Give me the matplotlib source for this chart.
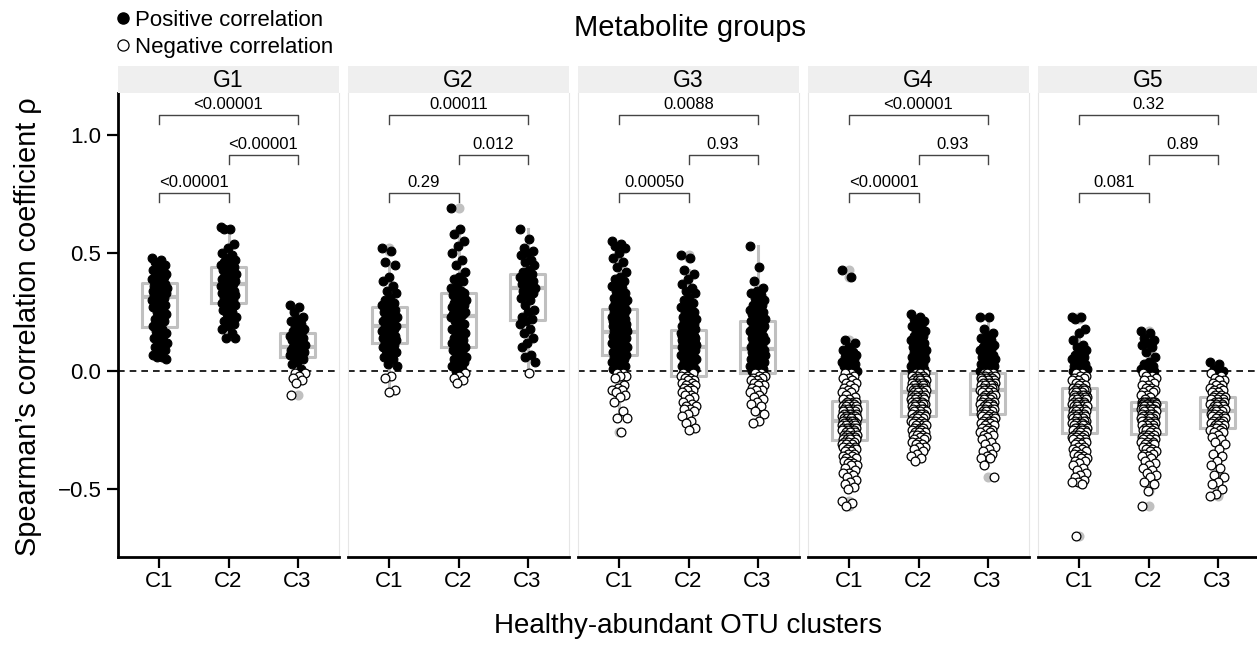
import matplotlib
matplotlib.use('Agg')
import matplotlib.pyplot as plt
from matplotlib.lines import Line2D
import numpy as np

plt.rcParams['font.family'] = ['Liberation Sans', 'DejaVu Sans']

groups = ['G1', 'G2', 'G3', 'G4', 'G5']
clusters = ['C1', 'C2', 'C3']

# pairwise test p-values per metabolite group
p_c1_c2 = ['<0.00001', '0.29', '0.00050', '<0.00001', '0.081']
p_c2_c3 = ['<0.00001', '0.012', '0.93', '0.93', '0.89']
p_c1_c3 = ['<0.00001', '0.00011', '0.0088', '<0.00001', '0.32']

# Spearman rho of each OTU-metabolite pair
g1_c1 = [0.48, 0.47, 0.46, 0.45, 0.44, 0.43, 0.43, 0.42, 0.41, 0.41, 0.40, 0.40, 0.39, 0.39, 0.38, 0.38,
         0.37, 0.37, 0.36, 0.36, 0.36, 0.35, 0.35, 0.35, 0.34, 0.34, 0.34, 0.33, 0.33, 0.33, 0.32, 0.32,
         0.31, 0.31, 0.30, 0.30, 0.29, 0.28, 0.28, 0.27, 0.26, 0.25, 0.24, 0.23, 0.22, 0.21, 0.20, 0.19,
         0.18, 0.17, 0.16, 0.15, 0.14, 0.13, 0.12, 0.12, 0.11, 0.10, 0.09, 0.08, 0.07, 0.06, 0.06, 0.05]
g1_c2 = [0.61, 0.60, 0.60, 0.54, 0.52, 0.50, 0.49, 0.48, 0.47, 0.47, 0.46, 0.46, 0.45, 0.45, 0.44, 0.44,
         0.44, 0.43, 0.43, 0.42, 0.42, 0.41, 0.41, 0.40, 0.40, 0.39, 0.39, 0.38, 0.38, 0.38, 0.37, 0.37,
         0.37, 0.36, 0.36, 0.35, 0.35, 0.34, 0.34, 0.33, 0.33, 0.32, 0.32, 0.31, 0.31, 0.30, 0.30, 0.29,
         0.29, 0.28, 0.28, 0.27, 0.26, 0.25, 0.24, 0.23, 0.22, 0.21, 0.20, 0.19, 0.18, 0.16, 0.14, 0.14]
g1_c3 = [0.28, 0.27, 0.25, 0.23, 0.22, 0.21, 0.20, 0.19, 0.18, 0.18, 0.17, 0.17,
         0.16, 0.15, 0.15, 0.14, 0.14, 0.13, 0.13, 0.12, 0.12, 0.11, 0.11, 0.10,
         0.10, 0.10, 0.09, 0.09, 0.09, 0.08, 0.08, 0.08, 0.07, 0.07, 0.07, 0.06,
         0.06, 0.05, 0.04, 0.03, 0.01, -0.01, -0.01, -0.02, -0.03, -0.04, -0.05, -0.10]

g2_c1 = [0.52, 0.51, 0.46, 0.45, 0.40, 0.38, 0.36, 0.34, 0.33, 0.31, 0.30, 0.29, 0.28, 0.28, 0.27,
         0.27, 0.26, 0.26, 0.25, 0.24, 0.24, 0.23, 0.23, 0.22, 0.22, 0.21, 0.21, 0.20, 0.20, 0.19,
         0.19, 0.18, 0.18, 0.17, 0.17, 0.16, 0.16, 0.15, 0.15, 0.14, 0.14, 0.13, 0.13, 0.12, 0.12,
         0.11, 0.11, 0.10, 0.10, 0.09, 0.08, 0.07, 0.06, 0.05, 0.03, 0.02, -0.02, -0.03, -0.08, -0.09]
g2_c2 = [0.69, 0.60, 0.58, 0.55, 0.53, 0.50, 0.47, 0.45, 0.42, 0.40, 0.39, 0.38, 0.36, 0.35, 0.34, 0.34, 0.33,
         0.33, 0.32, 0.31, 0.31, 0.30, 0.29, 0.29, 0.28, 0.27, 0.27, 0.26, 0.26, 0.25, 0.25, 0.24, 0.24, 0.24,
         0.23, 0.22, 0.21, 0.20, 0.19, 0.18, 0.17, 0.16, 0.16, 0.15, 0.14, 0.13, 0.13, 0.12, 0.11, 0.11, 0.10,
         0.10, 0.09, 0.08, 0.07, 0.06, 0.05, 0.05, 0.04, 0.03, 0.02, 0.01, 0.00, -0.01, -0.02, -0.03, -0.04, -0.05]
g2_c3 = [0.60, 0.56, 0.52, 0.51, 0.50, 0.49, 0.47, 0.46, 0.45, 0.43, 0.42,
         0.41, 0.40, 0.40, 0.39, 0.38, 0.38, 0.37, 0.37, 0.36, 0.36, 0.35,
         0.35, 0.34, 0.33, 0.32, 0.31, 0.30, 0.28, 0.26, 0.25, 0.23, 0.22,
         0.21, 0.20, 0.18, 0.16, 0.14, 0.12, 0.10, 0.07, 0.06, 0.04, -0.01]

g3_c1 = [0.55, 0.54, 0.53, 0.52, 0.50, 0.48, 0.46, 0.44, 0.42, 0.40, 0.39, 0.38, 0.37, 0.36,
         0.35, 0.34, 0.33, 0.32, 0.31, 0.31, 0.30, 0.30, 0.29, 0.29, 0.28, 0.28, 0.27, 0.27,
         0.26, 0.26, 0.25, 0.25, 0.24, 0.24, 0.23, 0.23, 0.22, 0.22, 0.22, 0.21, 0.21, 0.21,
         0.20, 0.20, 0.20, 0.19, 0.19, 0.19, 0.18, 0.18, 0.18, 0.18, 0.17, 0.17, 0.17, 0.17,
         0.16, 0.16, 0.16, 0.15, 0.15, 0.15, 0.14, 0.14, 0.14, 0.13, 0.13, 0.13, 0.12, 0.12,
         0.12, 0.11, 0.11, 0.11, 0.10, 0.10, 0.10, 0.09, 0.09, 0.09, 0.08, 0.08, 0.08, 0.07,
         0.07, 0.06, 0.06, 0.05, 0.05, 0.04, 0.04, 0.03, 0.02, 0.02, 0.01, -0.01, -0.01, -0.02,
         -0.02, -0.03, -0.06, -0.07, -0.08, -0.08, -0.09, -0.10, -0.11, -0.13, -0.17, -0.20, -0.20, -0.26]
g3_c2 = [0.49, 0.48, 0.43, 0.41, 0.39, 0.37, 0.35, 0.34, 0.33, 0.31, 0.30, 0.29, 0.28, 0.27, 0.26,
         0.25, 0.25, 0.24, 0.23, 0.23, 0.22, 0.22, 0.21, 0.21, 0.20, 0.20, 0.19, 0.19, 0.18, 0.18,
         0.17, 0.17, 0.17, 0.16, 0.16, 0.16, 0.15, 0.15, 0.15, 0.15, 0.14, 0.14, 0.14, 0.14, 0.13,
         0.13, 0.13, 0.13, 0.12, 0.12, 0.12, 0.12, 0.12, 0.11, 0.11, 0.11, 0.11, 0.11, 0.11, 0.10,
         0.10, 0.10, 0.09, 0.09, 0.09, 0.08, 0.08, 0.08, 0.07, 0.07, 0.07, 0.06, 0.06, 0.06, 0.05,
         0.05, 0.05, 0.04, 0.04, 0.03, 0.03, 0.02, 0.02, 0.01, 0.01, 0.00, -0.01, -0.01, -0.02, -0.02,
         -0.03, -0.03, -0.04, -0.04, -0.05, -0.05, -0.06, -0.06, -0.07, -0.07, -0.08, -0.08, -0.09, -0.10, -0.10,
         -0.11, -0.12, -0.13, -0.14, -0.15, -0.15, -0.16, -0.16, -0.17, -0.18, -0.19, -0.21, -0.22, -0.24, -0.25]
g3_c3 = [0.53, 0.44, 0.38, 0.35, 0.34, 0.33, 0.32, 0.31, 0.30, 0.29, 0.28, 0.28, 0.27,
         0.26, 0.26, 0.25, 0.25, 0.24, 0.24, 0.23, 0.23, 0.22, 0.22, 0.22, 0.22,
         0.21, 0.21, 0.20, 0.20, 0.19, 0.19, 0.18, 0.18, 0.17, 0.17, 0.16, 0.16, 0.15,
         0.15, 0.14, 0.14, 0.13, 0.13, 0.12, 0.12, 0.11, 0.11, 0.10, 0.10, 0.10,
         0.09, 0.09, 0.08, 0.08, 0.08, 0.07, 0.07, 0.07, 0.06, 0.06, 0.05, 0.05, 0.05,
         0.04, 0.04, 0.03, 0.03, 0.03, 0.02, 0.02, 0.01, 0.01, 0.00, 0.00, -0.01,
         -0.01, -0.02, -0.02, -0.03, -0.03, -0.04, -0.04, -0.05, -0.05, -0.06, -0.06, -0.07, -0.08,
         -0.08, -0.09, -0.10, -0.11, -0.12, -0.13, -0.14, -0.15, -0.17, -0.18, -0.21, -0.22]

g4_c1 = [0.43, 0.40, 0.13, 0.12, 0.10, 0.09, 0.08, 0.08, 0.07, 0.06, 0.06, 0.05, 0.05, 0.04, 0.04,
         0.03, 0.03, 0.02, 0.02, 0.01, 0.01, 0.00, -0.01, -0.01, -0.02, -0.03, -0.03, -0.04, -0.05, -0.05,
         -0.06, -0.07, -0.07, -0.08, -0.09, -0.09, -0.10, -0.11, -0.12, -0.12,
         -0.13, -0.13, -0.13, -0.14, -0.14, -0.14, -0.14, -0.15, -0.15, -0.15, -0.15, -0.16, -0.16, -0.16,
         -0.16, -0.16, -0.17, -0.17, -0.17, -0.17, -0.17, -0.18, -0.18, -0.18, -0.18, -0.18, -0.19, -0.19,
         -0.19, -0.19, -0.19, -0.19, -0.20, -0.20, -0.20, -0.20, -0.20, -0.20, -0.21, -0.21,
         -0.21, -0.21, -0.21, -0.22, -0.22, -0.22, -0.22, -0.22, -0.23, -0.23, -0.23, -0.23, -0.23, -0.24,
         -0.24, -0.24, -0.24, -0.24, -0.25, -0.25, -0.25, -0.25, -0.25, -0.26, -0.26, -0.26, -0.26, -0.27,
         -0.27, -0.27, -0.27, -0.28, -0.28, -0.28, -0.28, -0.29, -0.29, -0.29, -0.29, -0.29,
         -0.30, -0.30, -0.30, -0.31, -0.31, -0.31, -0.32, -0.32, -0.32, -0.33, -0.33, -0.33, -0.34, -0.34,
         -0.35, -0.35, -0.36, -0.36, -0.37, -0.37, -0.38, -0.38, -0.39, -0.39, -0.40, -0.40, -0.41, -0.42,
         -0.43, -0.43, -0.44, -0.45, -0.46, -0.47, -0.48, -0.49, -0.50, -0.55, -0.56, -0.57]
g4_c2 = [0.24, 0.23, 0.22, 0.21, 0.20, 0.19, 0.18, 0.17, 0.17, 0.16, 0.15, 0.15, 0.14, 0.13, 0.13,
         0.12, 0.12, 0.11, 0.10, 0.10, 0.09, 0.09, 0.08, 0.08, 0.07, 0.07, 0.06, 0.06, 0.05, 0.05,
         0.04, 0.04, 0.03, 0.03, 0.02, 0.02, 0.01, 0.01, 0.00, 0.00,
         -0.01, -0.01, -0.01, -0.01, -0.02, -0.02, -0.02, -0.02, -0.03, -0.03, -0.03, -0.03, -0.04, -0.04,
         -0.04, -0.04, -0.04, -0.05, -0.05, -0.05, -0.05, -0.05, -0.06, -0.06, -0.06, -0.06, -0.06, -0.07,
         -0.07, -0.07, -0.07, -0.07, -0.08, -0.08, -0.08, -0.08, -0.08, -0.09, -0.09, -0.09,
         -0.09, -0.10, -0.10, -0.10, -0.10, -0.11, -0.11, -0.11, -0.11, -0.12, -0.12, -0.12, -0.12, -0.13,
         -0.13, -0.13, -0.13, -0.14, -0.14, -0.14, -0.14, -0.15, -0.15, -0.15, -0.15, -0.16, -0.16, -0.16,
         -0.16, -0.17, -0.17, -0.17, -0.17, -0.18, -0.18, -0.18, -0.18, -0.19, -0.19, -0.19,
         -0.20, -0.20, -0.20, -0.21, -0.21, -0.21, -0.22, -0.22, -0.22, -0.23, -0.23, -0.23, -0.24, -0.24,
         -0.24, -0.25, -0.25, -0.25, -0.26, -0.26, -0.26, -0.27, -0.27, -0.27, -0.28, -0.28, -0.29, -0.29,
         -0.30, -0.30, -0.31, -0.31, -0.32, -0.32, -0.33, -0.34, -0.35, -0.36, -0.37, -0.38]
g4_c3 = [0.23, 0.23, 0.18, 0.16, 0.15, 0.14, 0.13, 0.12, 0.11, 0.11, 0.10, 0.10, 0.09, 0.09, 0.08,
         0.08, 0.07, 0.07, 0.06, 0.06, 0.05, 0.05, 0.05, 0.04, 0.04, 0.04, 0.03, 0.03, 0.03, 0.02,
         0.02, 0.01, 0.01, 0.00, 0.00,
         -0.01, -0.01, -0.01, -0.01, -0.02, -0.02, -0.02, -0.02, -0.03, -0.03, -0.03, -0.03, -0.03, -0.04,
         -0.04, -0.04, -0.04, -0.04, -0.05, -0.05, -0.05, -0.05, -0.05, -0.06, -0.06, -0.06, -0.06, -0.06,
         -0.07, -0.07, -0.07, -0.07, -0.08, -0.08, -0.08,
         -0.08, -0.09, -0.09, -0.09, -0.10, -0.10, -0.10, -0.11, -0.11, -0.11, -0.12, -0.12, -0.12, -0.12,
         -0.13, -0.13, -0.13, -0.14, -0.14, -0.14, -0.14, -0.15, -0.15, -0.15, -0.16, -0.16, -0.16, -0.16,
         -0.17, -0.17, -0.17, -0.17, -0.18, -0.18, -0.18,
         -0.19, -0.19, -0.19, -0.20, -0.20, -0.20, -0.21, -0.21, -0.21, -0.22, -0.22, -0.22, -0.23, -0.23,
         -0.24, -0.24, -0.25, -0.25, -0.26, -0.26, -0.27, -0.27, -0.28, -0.29, -0.30, -0.31, -0.32, -0.33,
         -0.34, -0.35, -0.36, -0.37, -0.37, -0.40, -0.45]

g5_c1 = [0.23, 0.23, 0.22, 0.18, 0.16, 0.13, 0.11, 0.10, 0.09, 0.08, 0.07, 0.06, 0.05, 0.05, 0.04,
         0.04, 0.03, 0.03, 0.02, 0.02, 0.02, 0.01, 0.01, 0.01, 0.00, 0.00, 0.00, -0.01, -0.01, -0.02,
         -0.02, -0.03, -0.03, -0.04, -0.04, -0.05, -0.05, -0.06, -0.06, -0.07,
         -0.07, -0.07, -0.08, -0.08, -0.08, -0.08, -0.09, -0.09, -0.09, -0.09, -0.10, -0.10, -0.10, -0.10,
         -0.11, -0.11, -0.11, -0.11, -0.11, -0.12, -0.12, -0.12, -0.12, -0.12, -0.13, -0.13, -0.13, -0.13,
         -0.14, -0.14, -0.14, -0.14, -0.15, -0.15, -0.15, -0.15, -0.15, -0.16, -0.16, -0.16,
         -0.16, -0.17, -0.17, -0.17, -0.17, -0.18, -0.18, -0.18, -0.18, -0.19, -0.19, -0.19, -0.19, -0.20,
         -0.20, -0.20, -0.20, -0.21, -0.21, -0.21, -0.21, -0.22, -0.22, -0.22, -0.22, -0.23, -0.23, -0.23,
         -0.23, -0.24, -0.24, -0.24, -0.24, -0.25, -0.25, -0.25, -0.25, -0.26, -0.26, -0.26,
         -0.27, -0.27, -0.27, -0.28, -0.28, -0.28, -0.29, -0.29, -0.29, -0.30, -0.30, -0.30, -0.31, -0.31,
         -0.32, -0.32, -0.33, -0.33, -0.34, -0.34, -0.35, -0.35, -0.36, -0.36, -0.37, -0.37, -0.38, -0.38,
         -0.39, -0.40, -0.41, -0.42, -0.43, -0.44, -0.45, -0.46, -0.47, -0.47, -0.48, -0.70]
g5_c2 = [0.17, 0.16, 0.14, 0.13, 0.12, 0.11, 0.10, 0.08, 0.06, 0.04, 0.03, 0.02, 0.02, 0.01, 0.01,
         0.01, 0.00, 0.00, -0.01, -0.02, -0.02, -0.03, -0.04, -0.04, -0.05, -0.06, -0.06, -0.07, -0.07,
         -0.08, -0.08, -0.09, -0.09, -0.10, -0.10, -0.11, -0.12,
         -0.13, -0.13, -0.13, -0.13, -0.13, -0.13, -0.13, -0.13, -0.13, -0.14, -0.14, -0.14, -0.14, -0.14,
         -0.14, -0.14, -0.14, -0.14, -0.14, -0.15, -0.15, -0.15, -0.15, -0.15, -0.15, -0.15, -0.15, -0.15,
         -0.15, -0.16, -0.16, -0.16, -0.16, -0.16, -0.16, -0.16, -0.16, -0.16,
         -0.17, -0.17, -0.17, -0.17, -0.18, -0.18, -0.18, -0.18, -0.19, -0.19, -0.19, -0.19, -0.20, -0.20,
         -0.20, -0.20, -0.21, -0.21, -0.21, -0.21, -0.22, -0.22, -0.22, -0.22, -0.23, -0.23, -0.23, -0.23,
         -0.24, -0.24, -0.24, -0.24, -0.25, -0.25, -0.25, -0.26, -0.26,
         -0.27, -0.27, -0.27, -0.28, -0.28, -0.28, -0.29, -0.29, -0.29, -0.30, -0.30, -0.30, -0.31, -0.31,
         -0.31, -0.32, -0.32, -0.33, -0.33, -0.34, -0.34, -0.35, -0.35, -0.36, -0.36, -0.37, -0.38, -0.39,
         -0.40, -0.41, -0.42, -0.43, -0.44, -0.45, -0.47, -0.48, -0.51, -0.57]
g5_c3 = [0.04, 0.03, 0.01, 0.00, 0.00, -0.01, -0.02, -0.03, -0.04, -0.04, -0.05, -0.06, -0.06, -0.07,
         -0.07, -0.08, -0.08, -0.09, -0.09, -0.10, -0.10, -0.11,
         -0.11, -0.11, -0.12, -0.12, -0.12, -0.13, -0.13, -0.13, -0.13, -0.14, -0.14, -0.14, -0.14, -0.15,
         -0.15, -0.15, -0.15, -0.16, -0.16, -0.16, -0.16, -0.17, -0.17,
         -0.17, -0.17, -0.18, -0.18, -0.18, -0.19, -0.19, -0.19, -0.20, -0.20, -0.20, -0.21, -0.21, -0.21,
         -0.22, -0.22, -0.22, -0.23, -0.23, -0.23, -0.24, -0.24,
         -0.24, -0.25, -0.25, -0.26, -0.26, -0.27, -0.28, -0.29, -0.30, -0.31, -0.33, -0.35, -0.36, -0.38,
         -0.40, -0.41, -0.44, -0.45, -0.47, -0.48, -0.50, -0.52, -0.53]

rho = {
    'G1': [g1_c1, g1_c2, g1_c3],
    'G2': [g2_c1, g2_c2, g2_c3],
    'G3': [g3_c1, g3_c2, g3_c3],
    'G4': [g4_c1, g4_c2, g4_c3],
    'G5': [g5_c1, g5_c2, g5_c3],
}

W, H = 1257, 645
fig = plt.figure(figsize=(W / 100, H / 100), dpi=100)


def px_rect(left, top, width, height):
    # pixel box (from top-left) -> figure fraction rect
    return [left / W, 1 - (top + height) / H, width / W, height / H]


box_grey = '#c0c0c0'
panel_left, panel_step, panel_w = 118, 230, 221
panel_top, panel_bottom, strip_top = 93, 557, 66
positions = np.arange(1, len(clusters) + 1)

for i, g in enumerate(groups):
    left = panel_left + i * panel_step
    ax = fig.add_axes(px_rect(left, panel_top, panel_w, panel_bottom - panel_top))
    strip = fig.add_axes(px_rect(left, strip_top, panel_w, panel_top - strip_top))
    strip.set_facecolor('#efefef')
    strip.set_xticks([])
    strip.set_yticks([])
    for s in strip.spines.values():
        s.set_visible(False)
    strip.text(0.5, 0.48, g, ha='center', va='center', fontsize=16.5, transform=strip.transAxes)

    data = rho[g]
    ax.boxplot(data, positions=positions, widths=0.5, whis=1.5,
               boxprops=dict(color=box_grey, linewidth=2.2),
               whiskerprops=dict(color=box_grey, linewidth=2.2),
               medianprops=dict(color=box_grey, linewidth=3.0),
               capprops=dict(visible=False),
               flierprops=dict(marker='o', markerfacecolor=box_grey, markeredgecolor=box_grey,
                               markersize=6.2),
               zorder=2)

    for pos, vals in zip(positions, data):
        v = np.array(vals)
        # deterministic jitter spread
        off = ((np.arange(len(v)) * 0.6180339887) % 1.0 - 0.5) * 0.22
        x = pos + off
        neg = v < 0
        ax.scatter(x[~neg], v[~neg], s=40, c='black', edgecolors='black', linewidths=0.8, zorder=3)
        ax.scatter(x[neg], v[neg], s=40, c='white', edgecolors='black', linewidths=0.9, zorder=3)

    ax.axhline(0, color='black', linestyle=(0, (4, 3)), linewidth=1.2, zorder=1)

    # significance brackets
    brackets = [(1, 2, 0.754, p_c1_c2[i]), (2, 3, 0.916, p_c2_c3[i]), (1, 3, 1.085, p_c1_c3[i])]
    for a, b, yb, label in brackets:
        ax.plot([a, a, b, b], [yb - 0.038, yb, yb, yb - 0.038], color='#444444', linewidth=1.0, zorder=2)
        ax.text((a + b) / 2, yb + 0.012, label, ha='center', va='bottom', fontsize=12)

    ax.set_xlim(0.4, 3.6)
    ax.set_ylim(-0.788, 1.178)
    ax.set_xticks(positions)
    ax.set_xticklabels(clusters, fontsize=16)
    ax.tick_params(axis='x', length=8, width=1.6, pad=2, color='black')
    ax.spines['top'].set_visible(False)
    ax.spines['bottom'].set_color('black')
    ax.spines['bottom'].set_linewidth(2)
    ax.spines['right'].set_color('#e6e6e6')
    ax.spines['right'].set_linewidth(0.8)
    if i == 0:
        ax.spines['left'].set_color('black')
        ax.spines['left'].set_linewidth(2)
        ax.set_yticks([-0.5, 0.0, 0.5, 1.0])
        ax.set_yticklabels(['\u22120.5', '0.0', '0.5', '1.0'], fontsize=16)
        ax.tick_params(axis='y', length=8, width=1.6, pad=4, color='black')
    else:
        ax.spines['left'].set_color('#e6e6e6')
        ax.spines['left'].set_linewidth(0.8)
        ax.set_yticks([])

fig.text(690 / W, 1 - 28 / H, 'Metabolite groups', ha='center', va='center', fontsize=21)
fig.text(688 / W, 1 - 626 / H, 'Healthy-abundant OTU clusters', ha='center', va='center', fontsize=20)
fig.text(28 / W, 1 - 327 / H, 'Spearman\u2019s correlation coefficient \u03c1', ha='center', va='center',
         rotation=90, fontsize=20.8)

handles = [Line2D([], [], linestyle='none', marker='o', markersize=8, markerfacecolor='black',
                  markeredgecolor='black', label='Positive correlation'),
           Line2D([], [], linestyle='none', marker='o', markersize=8, markerfacecolor='white',
                  markeredgecolor='black', markeredgewidth=0.9, label='Negative correlation')]
fig.legend(handles=handles, loc='upper left', bbox_to_anchor=(114 / W, 1 - 8 / H), frameon=False,
           fontsize=16, handlelength=0.6, handletextpad=0.25, labelspacing=0.25, borderpad=0.1,
           borderaxespad=0)

fig.savefig('out.png', dpi=100)
